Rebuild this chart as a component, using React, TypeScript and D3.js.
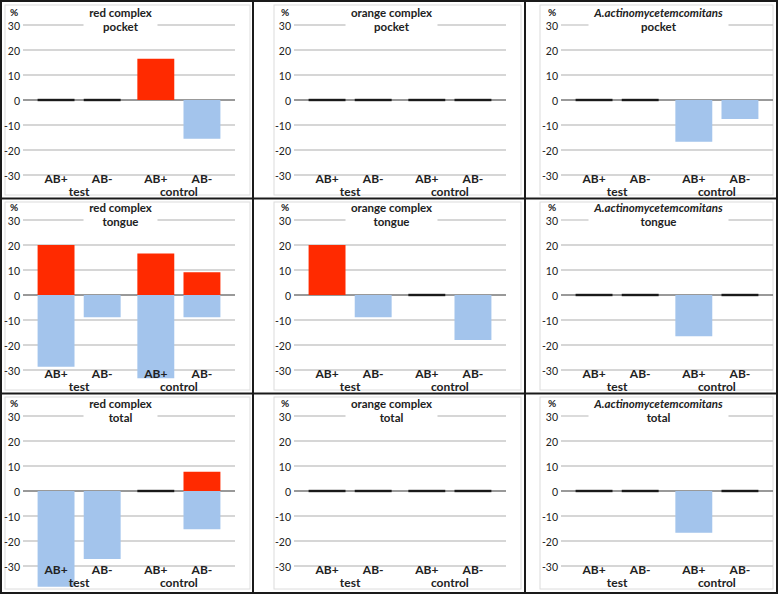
import React from "react";
import * as d3 from "d3";

const complexes = ["red complex", "orange complex", "A.actinomycetemcomitans"];
const sites = ["pocket", "tongue", "total"];
const groups = ["test", "control"];
const subgroups = ["AB+", "AB-"];
const yTicks = [30, 20, 10, 0, -10, -20, -30];

// values per panel: [test AB+, test AB-, control AB+, control AB-]
const redPocketUp = [0, 0, 16.5, 0];
const redPocketDown = [0, 0, 0, -15.5];
const orangePocketUp = [0, 0, 0, 0];
const orangePocketDown = [0, 0, 0, 0];
const aaPocketUp = [0, 0, 0, 0];
const aaPocketDown = [0, 0, -16.7, -7.6];

const redTongueUp = [20, 0, 16.6, 9.1];
const redTongueDown = [-28.7, -8.9, -33.3, -8.9];
const orangeTongueUp = [20, 0, 0, 0];
const orangeTongueDown = [0, -8.9, 0, -18];
const aaTongueUp = [0, 0, 0, 0];
const aaTongueDown = [0, 0, -16.5, 0];

const redTotalUp = [0, 0, 0, 7.7];
const redTotalDown = [-38.3, -27.2, 0, -15.3];
const orangeTotalUp = [0, 0, 0, 0];
const orangeTotalDown = [0, 0, 0, 0];
const aaTotalUp = [0, 0, 0, 0];
const aaTotalDown = [0, 0, -16.7, 0];

const upData = [
  [redPocketUp, orangePocketUp, aaPocketUp],
  [redTongueUp, orangeTongueUp, aaTongueUp],
  [redTotalUp, orangeTotalUp, aaTotalUp],
];
const downData = [
  [redPocketDown, orangePocketDown, aaPocketDown],
  [redTongueDown, orangeTongueDown, aaTongueDown],
  [redTotalDown, orangeTotalDown, aaTotalDown],
];

const RED = "#ff2a00";
const BLUE = "#a3c4ec";
const FONT = "Lato, 'Open Sans', sans-serif";

const plotX0 = [23, 294, 561];
const plotW = 212;
const zeroY = [100, 295, 491];
const titleGap = [37, 46, 70];
const frameL = [5, 274, 540];
const frameR = [250, 521, 773];
const frameT = [5, 202, 397];
const frameB = [195, 390, 589];

function Panel({ r, c }: { r: number; c: number }) {
  const x0 = plotX0[c];
  const y = d3.scaleLinear().domain([-30, 30]).range([zeroY[r] + 75, zeroY[r] - 75]);
  const xg = d3.scaleBand<string>().domain(groups).range([x0, x0 + plotW]).paddingInner(0.075).paddingOuter(0.1);
  const xs = d3.scaleBand<string>().domain(subgroups).range([0, xg.bandwidth()]).paddingInner(0.2).paddingOuter(0.1);
  const up = upData[r][c];
  const down = downData[r][c];
  const cats = groups.flatMap((g) => subgroups.map((s) => ({ g, s })));
  const titleCx = x0 + 97.5;
  const gap = titleGap[c];
  return (
    <g>
      <rect x={frameL[c]} y={frameT[r]} width={frameR[c] - frameL[c]} height={frameB[r] - frameT[r]} fill="none" stroke="#dcdcdc" strokeWidth={1} />
      {yTicks.map((t) => {
        const yy = y(t);
        const stroke = t === 0 ? "#777" : "#c8c8c8";
        if (t === 30) {
          return (
            <g key={t}>
              <line x1={x0} x2={titleCx - gap} y1={yy} y2={yy} stroke={stroke} strokeWidth={1.3} />
              <line x1={titleCx + gap} x2={x0 + plotW} y1={yy} y2={yy} stroke={stroke} strokeWidth={1.3} />
            </g>
          );
        }
        return <line key={t} x1={x0} x2={x0 + plotW} y1={yy} y2={yy} stroke={stroke} strokeWidth={1.3} />;
      })}
      {yTicks.map((t) => (
        <text key={"l" + t} x={x0 - 3} y={y(t) + 1} dy="0.35em" textAnchor="end" fontSize={10.5} fontFamily={FONT} fill="#222">
          {t}
        </text>
      ))}
      <text x={x0 - 13} y={zeroY[r] - 84} fontSize={10} fontWeight="bold" fontFamily={FONT} fill="#222">%</text>
      <text x={titleCx} y={zeroY[r] - 83.5} textAnchor="middle" fontSize={11.5} fontWeight="bold" fontStyle={c === 2 ? "italic" : "normal"} fontFamily={FONT} fill="#222">
        {complexes[c]}
      </text>
      <text x={titleCx} y={zeroY[r] - 69.5} textAnchor="middle" fontSize={11.5} fontWeight="bold" fontFamily={FONT} fill="#222">
        {sites[r]}
      </text>
      {cats.map((d, i) => {
        const bx = (xg(d.g) as number) + (xs(d.s) as number);
        const bw = xs.bandwidth();
        const u = up[i];
        const dn = down[i];
        return (
          <g key={i}>
            {u > 0 && <rect x={bx} y={y(u)} width={bw} height={y(0) - y(u)} fill={RED} />}
            {dn < 0 && <rect x={bx} y={y(0)} width={bw} height={y(dn) - y(0)} fill={BLUE} />}
            {u === 0 && dn === 0 && <rect x={bx} y={y(0) - 1.2} width={bw} height={2.4} fill="#1a1a1a" />}
          </g>
        );
      })}
      {cats.map((d, i) => {
        const bx = (xg(d.g) as number) + (xs(d.s) as number) + xs.bandwidth() / 2;
        return (
          <text key={"x" + i} x={bx} y={zeroY[r] + 83} textAnchor="middle" fontSize={12} fontWeight="bold" fontFamily={FONT} fill="#222">
            {d.s}
          </text>
        );
      })}
      {groups.map((g) => (
        <text key={g} x={(xg(g) as number) + xg.bandwidth() / 2} y={zeroY[r] + 95.5} textAnchor="middle" fontSize={12} fontWeight="bold" fontFamily={FONT} fill="#222">
          {g}
        </text>
      ))}
    </g>
  );
}

export default function App() {
  const rows = [0, 1, 2];
  const cols = [0, 1, 2];
  return (
    <svg width={778} height={594} style={{ position: "absolute", left: 0, top: 0, background: "#fff" }}>
      <rect x={0} y={0} width={778} height={594} fill="#fff" />
      {rows.map((r) => cols.map((c) => <Panel key={r + "-" + c} r={r} c={c} />))}
      <rect x={1} y={1} width={776} height={592} fill="none" stroke="#1a1a1a" strokeWidth={2} />
      <line x1={253} x2={253} y1={1} y2={593} stroke="#1a1a1a" strokeWidth={2} />
      <line x1={525} x2={525} y1={1} y2={593} stroke="#1a1a1a" strokeWidth={2} />
      <line x1={1} x2={777} y1={198.5} y2={198.5} stroke="#1a1a1a" strokeWidth={2} />
      <line x1={1} x2={777} y1={393.5} y2={393.5} stroke="#1a1a1a" strokeWidth={2} />
    </svg>
  );
}
